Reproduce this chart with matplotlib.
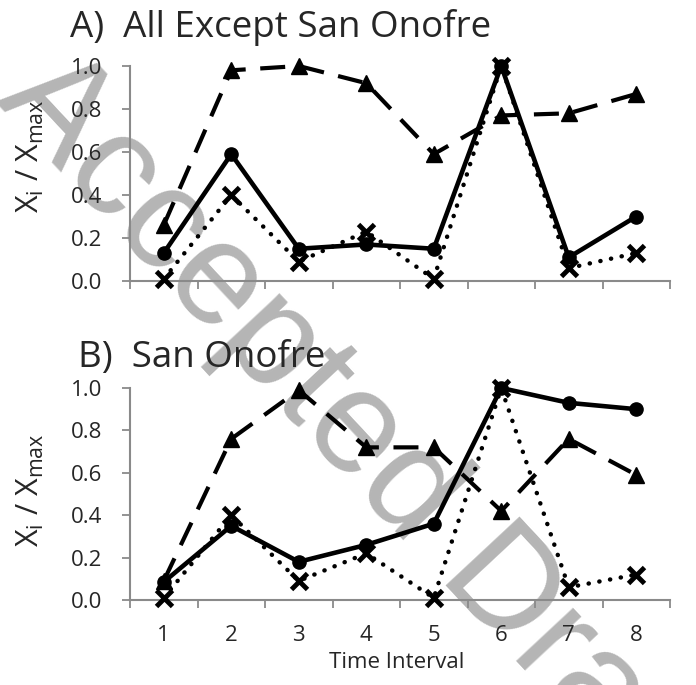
import matplotlib.pyplot as plt
import numpy as np

plt.rcParams['font.family'] = ['Open Sans', 'DejaVu Sans']
plt.rcParams['mathtext.default'] = 'regular'

intervals = [1, 2, 3, 4, 5, 6, 7, 8]
tick_labels = ['1', '2', '3', '4', '5', '6', '7', '8']

# A) All Except San Onofre
a_circle = [0.13, 0.59, 0.15, 0.17, 0.15, 1.0, 0.11, 0.30]
a_cross = [0.01, 0.40, 0.09, 0.23, 0.01, 1.0, 0.06, 0.13]
a_triangle = [0.26, 0.98, 1.0, 0.92, 0.59, 0.77, 0.78, 0.87]

# B) San Onofre
b_circle = [0.085, 0.35, 0.18, 0.26, 0.36, 1.0, 0.93, 0.90]
b_cross = [0.01, 0.40, 0.09, 0.22, 0.01, 1.0, 0.06, 0.12]
b_triangle = [0.09, 0.76, 0.99, 0.72, 0.72, 0.42, 0.76, 0.59]

W, H = 696, 685
fig = plt.figure(figsize=(W / 100, H / 100), dpi=100)

# watermark
fig.text(-6 / W, 1 - 102 / H, 'Accepted Draft', fontsize=105, color='#b5b5b5',
         family='Liberation Sans', rotation=-47, ha='left', va='baseline',
         zorder=-5, rotation_mode='anchor')

grey = '#8a8a8a'
txt = '#262626'


def panel(rect, circ, cross, tri, show_labels):
    ax = fig.add_axes(rect)
    ax.set_facecolor('none')
    x = np.array(intervals)
    ax.plot(x, tri, color='black', lw=3, linestyle=(0, (6, 3.5)),
            dash_capstyle='butt', marker='^', markersize=11, clip_on=False, zorder=3)
    ax.plot(x, cross, color='black', lw=3.2, linestyle=(0, (0.05, 2.4)),
            dash_capstyle='round', marker='x', markersize=11, markeredgewidth=3.5,
            clip_on=False, zorder=4)
    ax.plot(x, circ, color='black', lw=3.3, linestyle='-', marker='o',
            markersize=9.5, clip_on=False, zorder=5)
    ax.set_xlim(0.5, 8.5)
    ax.set_ylim(0, 1.0)
    ax.set_yticks(np.arange(0, 1.01, 0.2))
    ax.set_yticklabels(['%.1f' % v for v in np.arange(0, 1.01, 0.2)], fontsize=16, color=txt)
    ax.set_xticks(np.arange(0.5, 8.6, 1))
    ax.set_xticklabels([])
    ax.set_xticks(x, minor=True)
    if show_labels:
        ax.set_xticklabels(tick_labels, minor=True, fontsize=16, color=txt)
    ax.tick_params(axis='x', which='minor', length=0, pad=18)
    ax.tick_params(axis='both', which='major', color=grey, width=1.3, length=6, direction='out')
    ax.tick_params(axis='y', pad=14)
    for s in ['top', 'right']:
        ax.spines[s].set_visible(False)
    for s in ['left', 'bottom']:
        ax.spines[s].set_color(grey)
        ax.spines[s].set_linewidth(1.5)
    return ax


axA = panel([130 / W, 1 - 281 / H, 540 / W, 215 / H], a_circle, a_cross, a_triangle, False)
axB = panel([130 / W, 1 - 600 / H, 540 / W, 212 / H], b_circle, b_cross, b_triangle, True)

fig.text(70 / W, 1 - 27 / H, 'A)  All Except San Onofre', fontsize=26.5, color=txt,
         ha='left', va='center')
fig.text(78 / W, 1 - 358 / H, 'B)  San Onofre', fontsize=26.5, color=txt,
         ha='left', va='center')
fig.text(30 / W, 1 - 156 / H, '$X_i$ / $X_{max}$', fontsize=22, color=txt,
         rotation=90, ha='center', va='center')
fig.text(30 / W, 1 - 490 / H, '$X_i$ / $X_{max}$', fontsize=22, color=txt,
         rotation=90, ha='center', va='center')
fig.text(397 / W, 1 - 663 / H, 'Time Interval', fontsize=16, color=txt,
         ha='center', va='center')

fig.savefig('out.png', dpi=100)
